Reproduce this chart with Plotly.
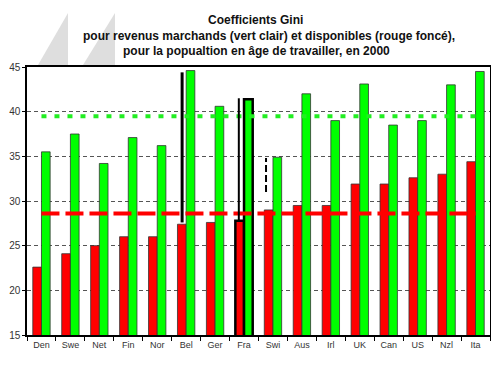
import plotly.graph_objects as go

countries = ["Den", "Swe", "Net", "Fin", "Nor", "Bel", "Ger", "Fra",
             "Swi", "Aus", "Irl", "UK", "Can", "US", "Nzl", "Ita"]
disposable = [22.6, 24.1, 25.0, 26.0, 26.0, 27.4, 27.6, 27.8,
              29.0, 29.5, 29.5, 31.9, 31.9, 32.6, 33.0, 34.4]
market = [35.5, 37.5, 34.2, 37.1, 36.2, 44.6, 40.6, 41.4,
          34.9, 42.0, 39.0, 43.1, 38.5, 39.0, 43.0, 44.5]
mean_disposable = 28.6
mean_market = 39.5

title_lines = ["Coefficients Gini",
               "pour revenus marchands (vert clair) et disponibles (rouge foncé),",
               "pour la popualtion en âge de travailler, en 2000"]

# vertical gap markers
gap_countries = ["Bel", "Fra"]
gap_top = [44.4, 41.5]
gap_bottom = [27.6, 27.8]
dashed_country = "Swi"
dashed_top = 34.8
dashed_bottom = 31.0
highlight_country = "Fra"

# the page body has an 8px margin, so the figure is drawn from (8, 8)
OFF = 8
PL, PR, PT, PB = 27, 490, 67, 335          # plot area in page pixels
W, H = 485, 351
ML, MT = PL - OFF, PT - OFF
PW, PH = PR - PL, PB - PT
MR = W - ML - PW
MB = H - MT - PH

def px(x):
    return (x - PL) / PW

def py(y):
    return (PB - y) / PH

line_w = [2.5 if c == highlight_country else 0.8 for c in countries]
line_c = ["#000000" if c == highlight_country else "#333333" for c in countries]

fig = go.Figure()
fig.add_trace(go.Bar(x=countries, y=disposable, name="disponibles",
                     marker=dict(color="#ff0000", line=dict(width=line_w, color=line_c))))
fig.add_trace(go.Bar(x=countries, y=market, name="marchands",
                     marker=dict(color="#00ff00", line=dict(width=line_w, color=line_c))))
fig.add_trace(go.Scatter(x=[countries[0], countries[-1]], y=[mean_disposable] * 2,
                         mode="lines", line=dict(color="#ff0000", width=4, dash="18px,6px"),
                         hoverinfo="skip"))
fig.add_trace(go.Scatter(x=[countries[0], countries[-1]], y=[mean_market] * 2,
                         mode="lines", line=dict(color="#22ee22", width=4, dash="5px,8px"),
                         hoverinfo="skip"))

shapes = []
offsets = {"Bel": -0.14, "Fra": -0.18}
widths = {"Bel": 3, "Fra": 2}
for c, t, b in zip(gap_countries, gap_top, gap_bottom):
    i = countries.index(c) + offsets[c]
    shapes.append(dict(type="line", xref="x", yref="y", x0=i, x1=i, y0=b, y1=t,
                       line=dict(color="black", width=widths[c]), layer="above"))
i = countries.index(dashed_country) - 0.24
shapes.append(dict(type="line", xref="x", yref="y", x0=i, x1=i, y0=dashed_bottom, y1=dashed_top,
                   line=dict(color="black", width=2, dash="7px,3px"), layer="above"))

# decorative grey triangles (logo)
for (xl, xr) in [(38, 68), (83, 115)]:
    path = f"M {px(xl)} {py(65)} L {px(xr)} {py(13)} L {px(xr)} {py(65)} Z"
    shapes.append(dict(type="path", xref="paper", yref="paper", path=path,
                       fillcolor="#dedede", line=dict(width=0), layer="below"))

title_pos = [(255, 20), (269, 36), (256, 51)]
annotations = [dict(xref="paper", yref="paper", x=px(cx), y=py(cy), xanchor="center",
                    yanchor="middle", text=f"<b>{t}</b>", showarrow=False,
                    font=dict(size=12, color="#111111"))
               for t, (cx, cy) in zip(title_lines, title_pos)]

fig.update_layout(
    width=W, height=H,
    margin=dict(l=ML, r=MR, t=MT, b=MB, autoexpand=False),
    paper_bgcolor="white", plot_bgcolor="white",
    barmode="group", bargap=0.4, bargroupgap=0,
    showlegend=False,
    font=dict(family="Liberation Sans, Arial", color="#333333"),
    shapes=shapes,
    annotations=annotations,
    xaxis=dict(range=[-0.5, len(countries) - 0.5], showline=True, linecolor="black", linewidth=2,
               mirror=True, ticks="outside", tickson="boundaries", ticklen=4, tickcolor="black",
               tickfont=dict(size=9, color="#333333"), showgrid=False, automargin=False),
    yaxis=dict(range=[15, 45], dtick=5, showline=True, linecolor="black", linewidth=1.5,
               mirror=True, ticks="outside", ticklen=3, tickcolor="black",
               tickfont=dict(size=10, color="#333333"),
               showgrid=True, gridcolor="#555555", gridwidth=1, griddash="4px,3px",
               zeroline=False, automargin=False),
)

fig.write_html("out.html")
